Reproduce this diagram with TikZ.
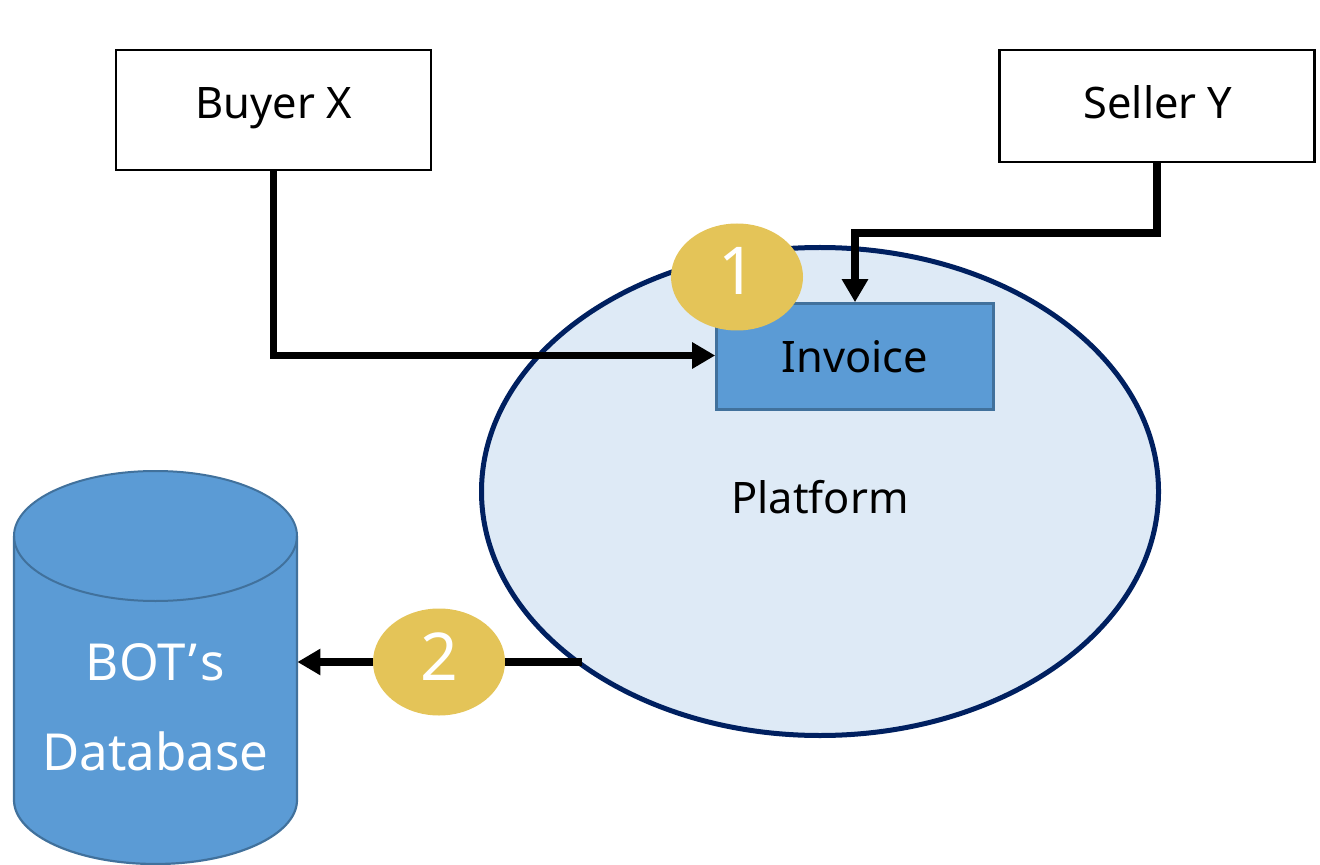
\documentclass[tikz,border=0pt]{standalone}
\usepackage{fontspec}
\setmainfont{Noto Sans}
\usetikzlibrary{shapes.geometric,arrows.meta,calc}
\definecolor{boxblue}{HTML}{5B9BD5}
\definecolor{edgeblue}{HTML}{41719C}
\definecolor{paleblue}{HTML}{DEEAF6}
\definecolor{navy}{HTML}{002060}
\definecolor{gold}{HTML}{E4C458}
\tikzset{
  px/.style={x=0.5pt,y=-0.5pt},
  actor/.style={draw=black,line width=1.1pt,fill=white,minimum width=157.5pt,inner sep=0pt},
  badge/.style={ellipse,fill=gold,minimum width=66pt,minimum height=53.5pt,inner sep=0pt},
  badgetext/.style={text=white,inner sep=0pt,anchor=base,font=\fontsize{33}{36}\selectfont},
  conn/.style={line width=3.7pt,-{Triangle[length=11.5pt,width=12.5pt]},miter limit=10},
  lbl/.style={anchor=base,font=\fontsize{21.7}{25}\selectfont,inner sep=0pt},
  dblbl/.style={text=white,anchor=base,inner sep=0pt,font=\fontsize{25.5}{30}\selectfont}
}
\begin{document}
\begin{tikzpicture}[px]
\useasboundingbox (0,0) rectangle (1320,865);
% platform
\node[ellipse,draw=navy,line width=2.5pt,fill=paleblue,minimum width=338.5pt,minimum height=244pt,inner sep=0pt] (platform) at (820,491.5) {};
\node[lbl] (platformlabel) at (820,513) {Platform};
\node[rectangle,draw=edgeblue,line width=1.3pt,fill=boxblue,minimum width=138.5pt,minimum height=53pt,inner sep=0pt] (invoice) at (855,356.5) {};
\node[lbl] (invoicelabel) at (855,373) {Invoice};
% actors
\node[actor,minimum height=60pt] (buyer) at (273.5,110) {};
\node[lbl] (buyerlabel) at (273.5,119) {Buyer X};
\node[actor,minimum height=56pt] (seller) at (1157,106) {};
\node[lbl] (sellerlabel) at (1158,119) {Seller Y};
% database
\fill[boxblue] (14,535) -- (14,800) arc[start angle=180,end angle=0,x radius=141.5,y radius=64] -- (297,535) -- cycle;
\fill[boxblue] (155.5,536) ellipse[x radius=141.5,y radius=65];
\draw[edgeblue,line width=1pt] (155.5,536) ellipse[x radius=141.5,y radius=65];
\draw[edgeblue,line width=1.1pt] (14,536) -- (14,800) arc[start angle=180,end angle=0,x radius=141.5,y radius=64] -- (297,536);
\node[minimum width=141.5pt,minimum height=196pt,inner sep=0pt] (db) at (155.5,662) {};
\node[dblbl] (dbone) at (155.5,680) {BOT\kern1.5pt’\kern1.5pt s};
\node[dblbl] (dbtwo) at (155.5,770) {Database};
% connectors
\coordinate (platformout) at (582,662);
\draw[conn] (buyer.south) -- (273.5,355.5) -- (invoice.west |- 0,355.5);
\draw[conn] (seller.south) -- (1157,233) -- (855,233) -- (invoice.north);
\draw[conn] (platformout) -- (db.east);
% badges
\node[badge] (one) at (737,277) {};
\node[badgetext] (onelabel) at (737,295) {1};
\node[badge] (two) at (439,662) {};
\node[badgetext] (twolabel) at (439,680) {2};
\end{tikzpicture}
\end{document}
